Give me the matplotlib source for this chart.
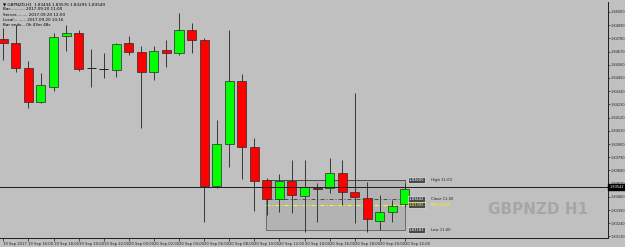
import numpy as np
import matplotlib.pyplot as plt
from matplotlib.patches import Rectangle

# GBPNZD H1 candles
opens = [1.84775, 1.84742, 1.84533, 1.84250, 1.84375, 1.84800, 1.84825, 1.84533, 1.84525, 1.84517,
         1.84742, 1.84667, 1.84500, 1.84683, 1.84658, 1.84850, 1.84767, 1.83550, 1.83900, 1.84425,
         1.83875, 1.83600, 1.83442, 1.83592, 1.83467, 1.83533, 1.83533, 1.83658, 1.83500, 1.83450,
         1.83258, 1.83333, 1.83400]
highs = [1.84867, 1.84892, 1.84592, 1.84492, 1.84825, 1.84892, 1.84850, 1.84692, 1.84658, 1.84742,
         1.84800, 1.84717, 1.84717, 1.84767, 1.84992, 1.84908, 1.84783, 1.84100, 1.84850, 1.84483,
         1.83950, 1.83617, 1.83650, 1.83767, 1.83767, 1.83575, 1.83783, 1.83767, 1.84325, 1.83583,
         1.83475, 1.83433, 1.83575]
lows = [1.84600, 1.84500, 1.84200, 1.84242, 1.84342, 1.84675, 1.84508, 1.84375, 1.84450, 1.84458,
        1.84642, 1.84033, 1.84433, 1.84542, 1.84642, 1.84658, 1.83250, 1.83533, 1.83708, 1.83608,
        1.83342, 1.83308, 1.83333, 1.83325, 1.83167, 1.83250, 1.83492, 1.83392, 1.83242, 1.83167,
        1.83183, 1.83250, 1.83375]
closes = [1.84742, 1.84533, 1.84250, 1.84392, 1.84792, 1.84825, 1.84525, 1.84533, 1.84525, 1.84733,
          1.84667, 1.84500, 1.84675, 1.84658, 1.84850, 1.84767, 1.83550, 1.83900, 1.84425, 1.83875,
          1.83592, 1.83442, 1.83592, 1.83475, 1.83542, 1.83525, 1.83658, 1.83500, 1.83458, 1.83275,
          1.83333, 1.83383, 1.83525]

time_labels = ["19 Sep 2017", "19 Sep 16:00", "19 Sep 18:00", "19 Sep 20:00", "19 Sep 22:00",
               "20 Sep 00:00", "20 Sep 02:00", "20 Sep 04:00", "20 Sep 06:00", "20 Sep 08:00",
               "20 Sep 10:00", "20 Sep 12:00", "20 Sep 14:00", "20 Sep 16:00", "20 Sep 18:00",
               "20 Sep 20:00", "20 Sep 22:00"]
price_ticks = [1.85000, 1.84890, 1.84780, 1.84670, 1.84560, 1.84450, 1.84340, 1.84230, 1.84120,
               1.84010, 1.83900, 1.83790, 1.83680, 1.83570, 1.83460, 1.83350, 1.83240, 1.83130]

bid = 1.83542
box_start, box_end = 21, 32
box_high, box_low, box_close = 1.83600, 1.83183, 1.83442
box_mid = (box_high + box_low) / 2

info_lines = ["\u25bc GBPNZD,H1  1.83434 1.83576 1.83295 1.83549",
              "Bar............ 2017.09.20 11:00",
              "Server......... 2017.09.20 12:00",
              "Local.......... 2017.09.20 13:16",
              "Bar ends... 0h 43m 48s"]

bg = '#c0c0c0'
px = 0.72  # one pixel in points at dpi 100
fs = 2.7

fig = plt.figure(figsize=(6.25, 2.47), dpi=100, facecolor=bg)
ax = fig.add_axes([0, 1 - 238 / 247, 608 / 625, 236 / 247], facecolor=bg)
ax.set_xlim(-0.263, 48.18)
ax.set_ylim(1.831167, 1.850833)

x = np.arange(len(opens))
o = np.array(opens); h = np.array(highs); l = np.array(lows); c = np.array(closes)

# wicks
ax.vlines(x, l, h, color='#3a3a3a', lw=px, zorder=3)

# bodies
w = 0.72
for i in range(len(x)):
    if abs(c[i] - o[i]) < 1e-6:
        ax.hlines(o[i], x[i] - w / 2, x[i] + w / 2, color='#202020', lw=px, zorder=4)
        continue
    col = '#00ff00' if c[i] > o[i] else '#ff0000'
    ax.bar(x[i], c[i] - o[i], bottom=o[i], width=w, color=col,
           edgecolor='#2a2a2a', lw=0.5, zorder=4)

# range box
x0, x1 = box_start - 0.05, box_end
ax.add_patch(Rectangle((x0, box_low), x1 - x0, box_high - box_low, facecolor='#b3b3b3',
                       edgecolor='#6e6e6e', lw=px, zorder=1))
ax.hlines(box_high, x0, x1, color='#303030', lw=px, ls=(0, (1, 1)), zorder=2)
ax.hlines(box_close, x0, x1, color='#505050', lw=px, ls=(0, (4, 2, 1, 2)), zorder=2)
ax.hlines(box_mid, x0, x1, color='#ffff00', lw=px, ls=(0, (4, 2, 1, 2)), zorder=2)

lab_x = box_end + 0.3
for val, name, tcol in [(box_high, "High 11:00", '#202020'), (box_close, "Close 11:00", '#202020'),
                        (box_mid, "Mid 11:00", '#ffff00'), (box_low, "Low 11:00", '#202020')]:
    ax.text(lab_x, val, f"{val:.5f}", fontsize=fs, color='white' if tcol != '#ffff00' else '#ffff00',
            va='center', ha='left', zorder=6,
            bbox=dict(boxstyle='square,pad=0.25', fc='#4a4a4a', ec='white', lw=0.4))
    ax.text(lab_x + 1.75, val, name, fontsize=fs, color=tcol, va='center', ha='left', zorder=6)

# bid line
ax.axhline(bid, color='#202020', lw=px, zorder=5)
ax.text(1.002, bid, f"{bid:.5f}", transform=ax.get_yaxis_transform(), fontsize=2.5,
        color='white', va='center', ha='left', zorder=7,
        bbox=dict(boxstyle='square,pad=0.3', fc='black', ec='black'))

# watermark
ax.text(0.885, 0.12, "GBPNZD H1", transform=ax.transAxes, fontsize=11, fontweight='bold',
        color='#a6a6a6', ha='center', va='center', zorder=0)

# info block
for k, line in enumerate(info_lines):
    fig.text(3 / 625, 1 - (4 + 5.3 * k) / 247, line, fontsize=3.0, color='black',
             va='center', ha='left')

# axes styling
for s in ['top', 'left']:
    ax.spines[s].set_visible(False)
for s in ['bottom', 'right']:
    ax.spines[s].set_color('#202020')
    ax.spines[s].set_linewidth(px)

ax.yaxis.tick_right()
ax.set_yticks(price_ticks)
ax.set_yticklabels([f"{p:.5f}" for p in price_ticks])
ax.set_xticks(np.arange(0, 2 * len(time_labels), 2))
ax.set_xticklabels(time_labels, ha='left')
ax.tick_params(axis='x', labelsize=fs, colors='#202020', length=2, width=0.5, pad=1)
ax.tick_params(axis='y', labelsize=2.5, colors='#202020', length=1.5, width=0.5, pad=0.4)
for lab in ax.get_xticklabels():
    lab.set_horizontalalignment('left')

fig.savefig('out.png', dpi=100, facecolor=bg)
